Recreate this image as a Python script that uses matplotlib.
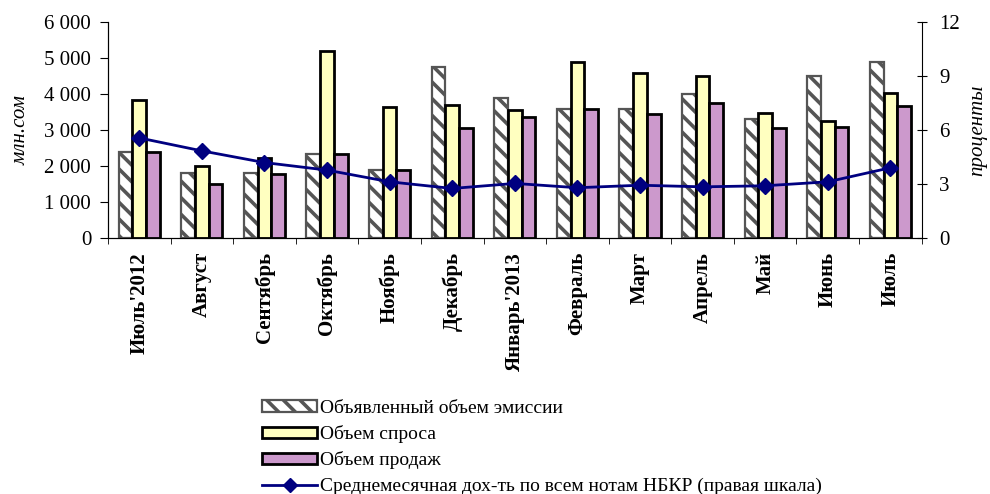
import numpy as np
import matplotlib
matplotlib.use('Agg')
import matplotlib.pyplot as plt
from matplotlib.ticker import FuncFormatter, FixedLocator
from matplotlib.lines import Line2D
from matplotlib.patches import Patch

plt.rcParams['font.family'] = ['Liberation Serif', 'DejaVu Serif']
plt.rcParams['hatch.linewidth'] = 2.6
plt.rcParams['hatch.color'] = '#444444'

months = ["Июль'2012", 'Август', 'Сентябрь', 'Октябрь', 'Ноябрь', 'Декабрь',
          "Январь'2013", 'Февраль', 'Март', 'Апрель', 'Май', 'Июнь', 'Июль']
# млн. сом
emission = [2400, 1800, 1800, 2340, 1890, 4750, 3900, 3600, 3600, 4000, 3300, 4500, 4900]
demand = [3840, 2010, 2230, 5200, 3650, 3710, 3560, 4900, 4600, 4500, 3490, 3260, 4020]
sales = [2400, 1490, 1770, 2340, 1890, 3050, 3370, 3600, 3460, 3760, 3065, 3090, 3680]
# проценты
yield_pct = [5.57, 4.85, 4.2, 3.78, 3.13, 2.76, 3.04, 2.8, 2.94, 2.85, 2.91, 3.13, 3.91]

legend_labels = ['Объявленный объем эмиссии', 'Объем спроса', 'Объем продаж',
                 'Среднемесячная дох-ть по всем нотам НБКР (правая шкала)']

fig = plt.figure(figsize=(9.9, 4.94), dpi=100)
ax = fig.add_axes([0.109, 0.518, 0.822, 0.437])
ax2 = ax.twinx()

x = np.arange(len(months))
w = 0.22
ax.bar(x - w, emission, w, facecolor='white', edgecolor='#555555', hatch='\\\\', linewidth=1.6)
ax.bar(x, demand, w, facecolor='#FFFFC0', edgecolor='black', linewidth=2)
ax.bar(x + w, sales, w, facecolor='#CC99CC', edgecolor='black', linewidth=2)

ax2.plot(x, yield_pct, color='#000080', linewidth=2, marker='D', markersize=8.5)

ax.set_xlim(-0.5, len(months) - 0.5)
ax.set_ylim(0, 6000)
ax2.set_ylim(0, 12)
ax.set_yticks(np.arange(0, 6001, 1000))
ax2.set_yticks(np.arange(0, 13, 3))
ax.yaxis.set_major_formatter(FuncFormatter(lambda v, p: f'{int(v):,}'.replace(',', ' ')))

ax.set_xticks(x)
ax.set_xticklabels(months, rotation=90, fontweight='bold', fontsize=15)
ax.tick_params(axis='x', which='major', length=0, pad=10)
ax.xaxis.set_minor_locator(FixedLocator(np.arange(-0.5, len(months), 1.0)))
ax.tick_params(axis='x', which='minor', length=4, direction='out')
ax.tick_params(axis='y', labelsize=15, length=6, pad=6, direction='out')
ax2.tick_params(axis='y', labelsize=15, length=7, pad=9, direction='inout')

for a in (ax, ax2):
    a.spines['top'].set_visible(False)
ax.spines['right'].set_visible(False)

ax.set_ylabel('млн.сом', fontstyle='italic', fontsize=15, labelpad=10)
ax2.set_ylabel('проценты', fontstyle='italic', fontsize=15, labelpad=6)

handles = [
    Patch(facecolor='white', edgecolor='#555555', hatch='\\\\', linewidth=1.6),
    Patch(facecolor='#FFFFC0', edgecolor='black', linewidth=2),
    Patch(facecolor='#CC99CC', edgecolor='black', linewidth=2),
    Line2D([], [], color='#000080', linewidth=2, marker='D', markersize=7),
]
fig.legend(handles, legend_labels, loc='upper left', bbox_to_anchor=(0.265, 0.19),
           frameon=False, fontsize=14, handlelength=2.8, handleheight=0.55,
           handletextpad=0.15, labelspacing=0.42, borderaxespad=0, borderpad=0)

fig.savefig('out.png', dpi=100)
